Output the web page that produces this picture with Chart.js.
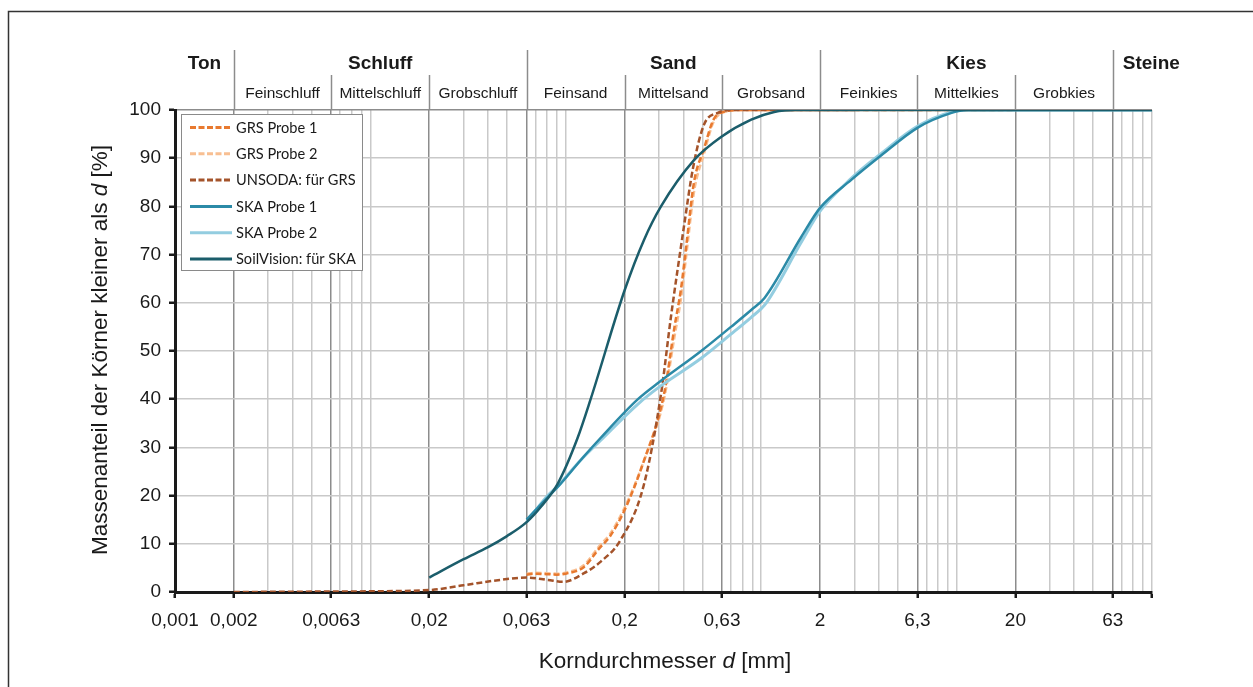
<!DOCTYPE html>
<html>
<head>
<meta charset="utf-8">
<script src="https://cdn.jsdelivr.net/npm/chart.js"></script>
<style>
  html, body { margin: 0; padding: 0; background: #fff; }
</style>
</head>
<body>
<canvas id="sieb" width="1253" height="687"></canvas>
<script>
// axis ticks (mm) and their labels
const tickValues = [0.001, 0.002, 0.0063, 0.02, 0.063, 0.2, 0.63, 2, 6.3, 20, 63, 100];
const tickLabels = ['0,001', '0,002', '0,0063', '0,02', '0,063', '0,2', '0,63', '2', '6,3', '20', '63', ''];

// soil classes (DIN 4022)
const mainNames = ['Ton', 'Schluff', 'Sand', 'Kies', 'Steine'];
const mainBounds = [0.001, 0.002, 0.063, 2, 63, 100];
const subNames = ['Feinschluff', 'Mittelschluff', 'Grobschluff', 'Feinsand', 'Mittelsand', 'Grobsand', 'Feinkies', 'Mittelkies', 'Grobkies'];
const subBounds = [0.002, 0.0063, 0.02, 0.063, 0.2, 0.63, 2, 6.3, 20, 63];

// grain size curves: d in mm, passing in %
const grs1D = [0.063, 0.07, 0.08, 0.09, 0.1, 0.124, 0.148, 0.168, 0.2, 0.25, 0.318, 0.36, 0.389, 0.414, 0.453, 0.51, 0.57, 0.64, 0.8, 20];
const grs1P = [3.6, 3.8, 3.7, 3.6, 3.8, 5.2, 9, 11.5, 17, 27, 41, 55, 63, 72, 85, 92, 98, 99.6, 100, 100];
const grs2D = [0.063, 0.07, 0.08, 0.09, 0.1, 0.124, 0.148, 0.168, 0.2, 0.25, 0.318, 0.36, 0.389, 0.414, 0.453, 0.51, 0.57, 0.64, 0.8, 16];
const grs2P = [3.8, 4.0, 3.9, 3.8, 4.0, 5.6, 9.5, 12, 17.5, 27, 40, 53, 61, 70, 83, 91, 97.5, 99.5, 100, 100];
const unsodaD = [0.002, 0.0063, 0.02, 0.03, 0.046, 0.063, 0.081, 0.097, 0.124, 0.151, 0.19, 0.25, 0.307, 0.345, 0.403, 0.448, 0.51, 0.6, 0.7, 3];
const unsodaP = [0, 0.1, 0.4, 1.4, 2.5, 3.0, 2.5, 2.1, 3.9, 6.3, 10.7, 22, 41, 57, 76, 88, 97, 99.4, 100, 100];
const ska1D = [0.063, 0.08, 0.091, 0.12, 0.151, 0.234, 0.3, 0.493, 0.7, 0.889, 1.04, 1.6, 2, 2.89, 4.12, 6.3, 9.43, 11.2, 100];
const ska1P = [15, 19.5, 21.8, 27.5, 32, 40, 43.5, 50, 55, 58.5, 61, 73.6, 79.7, 85.5, 90.6, 96.3, 99.4, 100, 100];
const ska2D = [0.063, 0.08, 0.091, 0.12, 0.151, 0.234, 0.3, 0.493, 0.7, 0.889, 1.04, 1.6, 2, 2.89, 4.12, 6.3, 9.43, 11.2, 100];
const ska2P = [14.5, 19.8, 22, 27.5, 31.5, 39, 42.5, 48.5, 53.5, 57, 59.5, 72.5, 79, 85.8, 91, 96.6, 99.6, 100, 100];
const svD = [0.02, 0.03, 0.04, 0.05, 0.063, 0.075, 0.091, 0.115, 0.134, 0.2, 0.251, 0.307, 0.453, 0.623, 0.889, 1.166, 1.5, 100];
const svP = [3, 6.8, 9.3, 11.6, 14.5, 17.8, 22.5, 32, 40, 62.6, 73, 80, 89.6, 94.4, 98, 99.6, 100, 100];

const TEXT = '#1a1a1a';
const ARIAL = '"Liberation Sans", Arial, sans-serif';

const pts = (d, p) => d.map((v, i) => ({ x: v, y: p[i] }));
const same = (a, b) => Math.abs(Math.log10(a / b)) < 1e-6;

// vertical grid: 1..9 per decade (6 replaced by 6.3) plus the class bounds
const gridValues = [];
for (let e = -3; e <= 1; e++) {
  [1, 2, 3, 4, 5, 7, 8, 9].forEach(m => gridValues.push(m * Math.pow(10, e)));
}
gridValues.push(100);
subBounds.forEach(b => { if (!gridValues.some(g => same(g, b))) gridValues.push(b); });
gridValues.sort((a, b) => a - b);

const labelFor = v => {
  const i = tickValues.findIndex(t => same(t, v));
  return i < 0 ? null : tickLabels[i];
};
const isBound = v => subBounds.some(b => same(b, v));

const line = (label, d, p, color, width, dash, order) => ({
  label, data: pts(d, p), borderColor: color, backgroundColor: color,
  borderWidth: width, borderDash: dash, pointRadius: 0, fill: false,
  cubicInterpolationMode: 'monotone', order
});

// mixed roman/italic text, drawn left to right from x
function drawRuns(ctx, runs, x, y) {
  runs.forEach(r => {
    ctx.font = r.font;
    ctx.fillText(r.text, x, y);
    x += ctx.measureText(r.text).width;
  });
}
function runsWidth(ctx, runs) {
  return runs.reduce((w, r) => { ctx.font = r.font; return w + ctx.measureText(r.text).width; }, 0);
}

const decor = {
  id: 'decor',
  beforeDraw(chart) {
    const c = chart.ctx;
    c.save();
    c.fillStyle = '#fff';
    c.fillRect(0, 0, chart.width, chart.height);
    c.strokeStyle = '#333';
    c.lineWidth = 1.5;
    c.beginPath();
    c.moveTo(8.5, chart.height + 2);
    c.lineTo(8.5, 11.5);
    c.lineTo(chart.width + 2, 11.5);
    c.stroke();
    c.restore();
  },
  afterDraw(chart) {
    const c = chart.ctx, xs = chart.scales.x, top = chart.chartArea.top;
    c.save();
    // class separators above the plot
    c.strokeStyle = '#8c8c8c';
    c.lineWidth = 1.5;
    subBounds.forEach(b => {
      const x = Math.round(xs.getPixelForValue(b)) + 0.5;
      const main = mainBounds.some(m => same(m, b));
      c.beginPath();
      c.moveTo(x, main ? 50 : 75);
      c.lineTo(x, top);
      c.stroke();
    });
    c.fillStyle = TEXT;
    c.textBaseline = 'middle';
    c.font = 'bold 19px ' + ARIAL;
    mainNames.forEach((n, i) => {
      const a = xs.getPixelForValue(mainBounds[i]), b = xs.getPixelForValue(mainBounds[i + 1]);
      const w = c.measureText(n).width;
      if (w + 16 > b - a) { c.textAlign = 'left'; c.fillText(n, a + 10, 64); }
      else { c.textAlign = 'center'; c.fillText(n, (a + b) / 2, 64); }
    });
    c.font = '15.5px ' + ARIAL;
    c.textAlign = 'center';
    subNames.forEach((n, i) => {
      const a = xs.getPixelForValue(subBounds[i]), b = xs.getPixelForValue(subBounds[i + 1]);
      c.fillText(n, (a + b) / 2, 94);
    });

    // axis titles
    c.textAlign = 'left';
    c.textBaseline = 'middle';
    const xt = [
      { text: 'Korndurchmesser ', font: '22.5px ' + ARIAL },
      { text: 'd', font: 'italic 22.5px ' + ARIAL },
      { text: ' [mm]', font: '22.5px ' + ARIAL }
    ];
    drawRuns(c, xt, 665 - runsWidth(c, xt) / 2, 662);
    const yt = [
      { text: 'Massenanteil der Körner kleiner als ', font: '22.5px ' + ARIAL },
      { text: 'd', font: 'italic 22.5px ' + ARIAL },
      { text: ' [%]', font: '22.5px ' + ARIAL }
    ];
    c.translate(101, 350);
    c.rotate(-Math.PI / 2);
    drawRuns(c, yt, -runsWidth(c, yt) / 2, 0);
    c.restore();

    // legend box
    c.save();
    const lx = 181, ly = 114, lw = 181, lh = 156;
    c.fillStyle = '#fff';
    c.fillRect(lx, ly, lw, lh);
    c.strokeStyle = '#8a8a8a';
    c.lineWidth = 1;
    c.strokeRect(lx + 0.5, ly + 0.5, lw, lh);
    c.font = '14.6px Lato, "Open Sans", sans-serif';
    c.textBaseline = 'middle';
    c.fillStyle = TEXT;
    chart.data.datasets.forEach((ds, i) => {
      const y = 127.5 + i * 26.3;
      c.strokeStyle = ds.borderColor;
      c.lineWidth = 3;
      c.setLineDash(ds.borderDash.length ? [6, 2.5] : []);
      c.beginPath();
      c.moveTo(190, y);
      c.lineTo(232, y);
      c.stroke();
      c.setLineDash([]);
      c.fillText(ds.label, 236, y + 0.5);
    });
    c.restore();
  }
};

new Chart(document.getElementById('sieb'), {
  type: 'line',
  data: {
    datasets: [
      line('GRS Probe 1', grs1D, grs1P, '#e8792f', 2.5, [6, 3], 5),
      line('GRS Probe 2', grs2D, grs2P, '#f8bf92', 2.5, [6, 3], 6),
      line('UNSODA: für GRS', unsodaD, unsodaP, '#a4532a', 2.5, [6, 3], 4),
      line('SKA Probe 1', ska1D, ska1P, '#2b8aa7', 2.5, [], 2),
      line('SKA Probe 2', ska2D, ska2P, '#93cde0', 3, [], 3),
      line('SoilVision: für SKA', svD, svP, '#1b5d6b', 2.5, [], 1)
    ]
  },
  options: {
    responsive: false,
    devicePixelRatio: 1,
    animation: false,
    events: [],
    layout: { padding: { top: 110, right: 101, left: 0, bottom: 0 } },
    plugins: { legend: { display: false }, tooltip: { enabled: false } },
    scales: {
      x: {
        type: 'logarithmic',
        min: 0.001,
        max: 100,
        afterBuildTicks: s => { s.ticks = gridValues.map(v => ({ value: v })); },
        afterFit: s => { s.height = 95; },
        ticks: {
          autoSkip: false,
          maxRotation: 0,
          padding: 11,
          color: TEXT,
          font: { family: ARIAL, size: 19 },
          callback: v => labelFor(v) || ''
        },
        grid: {
          color: ctx => isBound(ctx.tick.value) ? '#8c8c8c' : '#c9c9c9',
          lineWidth: 1.5,
          tickLength: 6,
          tickWidth: 2.5,
          tickColor: ctx => labelFor(ctx.tick.value) !== null ? TEXT : 'rgba(0,0,0,0)'
        },
        border: { color: TEXT, width: 3 }
      },
      y: {
        min: 0,
        max: 100,
        afterFit: s => { s.width = 175; },
        ticks: {
          stepSize: 10,
          padding: 8,
          color: TEXT,
          font: { family: ARIAL, size: 19 }
        },
        grid: {
          color: ctx => ctx.tick.value === 100 ? '#8c8c8c' : '#c9c9c9',
          lineWidth: 1.5,
          tickLength: 6,
          tickWidth: 2.5,
          tickColor: TEXT
        },
        border: { color: TEXT, width: 3 }
      }
    }
  },
  plugins: [decor]
});
</script>
</body>
</html>
